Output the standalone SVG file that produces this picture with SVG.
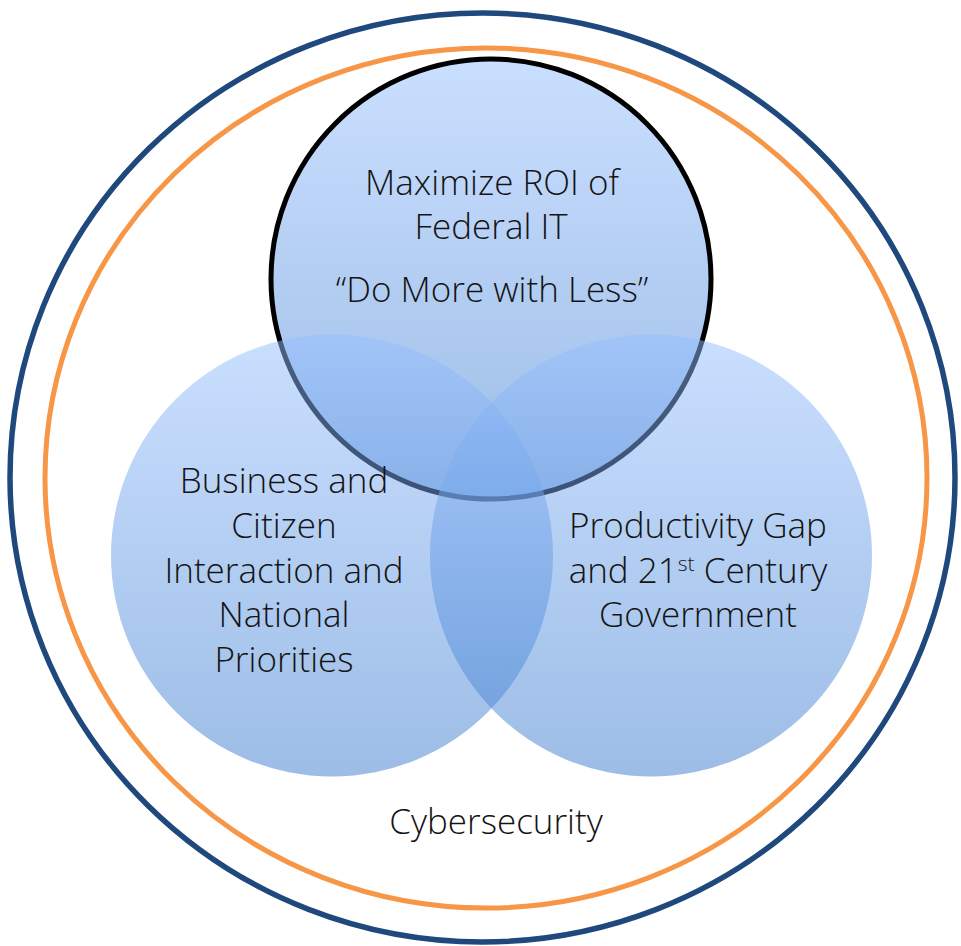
<svg xmlns="http://www.w3.org/2000/svg" width="961" height="946" viewBox="0 0 961 946">
<defs>
<linearGradient id="blueFill" x1="0" y1="0" x2="0" y2="1">
<stop offset="0" stop-color="rgb(149,191,255)"/>
<stop offset="1" stop-color="rgb(59,123,205)"/>
</linearGradient>
<style>
.lbl{font-family:"Open Sans","Segoe UI","Liberation Sans",sans-serif;font-weight:300;font-size:35px;fill:#141414;text-anchor:middle}
.bubble{fill:url(#blueFill);fill-opacity:0.5}
</style>
</defs>
<rect width="961" height="946" fill="#ffffff"/>
<g id="cybersecurity">
<ellipse cx="482.5" cy="477.5" rx="472.5" ry="464.5" fill="none" stroke="#1f497d" stroke-width="5.5"/>
<ellipse cx="486" cy="478" rx="441" ry="430" fill="none" stroke="#f79646" stroke-width="5"/>
<text class="lbl" x="496" y="834">Cybersecurity</text>
</g>
<g id="maximize-roi">
<circle class="bubble" cx="491" cy="279" r="220" stroke="#000000" stroke-width="5"/>
</g>
<g id="business-citizen">
<circle class="bubble" cx="332" cy="555.5" r="221"/>
</g>
<g id="productivity-gap">
<circle class="bubble" cx="651" cy="555.5" r="221"/>
</g>
<g id="labels">
<text class="lbl" x="492" y="195">Maximize ROI of</text>
<text class="lbl" x="491" y="239">Federal IT</text>
<text class="lbl" x="492" y="302">“Do More with Less”</text>
<text class="lbl" x="284" y="493">Business and</text>
<text class="lbl" x="284" y="538">Citizen</text>
<text class="lbl" x="284" y="583">Interaction and</text>
<text class="lbl" x="284" y="627">National</text>
<text class="lbl" x="284" y="672">Priorities</text>
<text class="lbl" x="698" y="538">Productivity Gap</text>
<text class="lbl" x="698" y="583">and 21<tspan font-size="21" dy="-12">st</tspan><tspan dy="12"> Century</tspan></text>
<text class="lbl" x="698" y="627">Government</text>
</g>
<g id="connectors"/>
</svg>
